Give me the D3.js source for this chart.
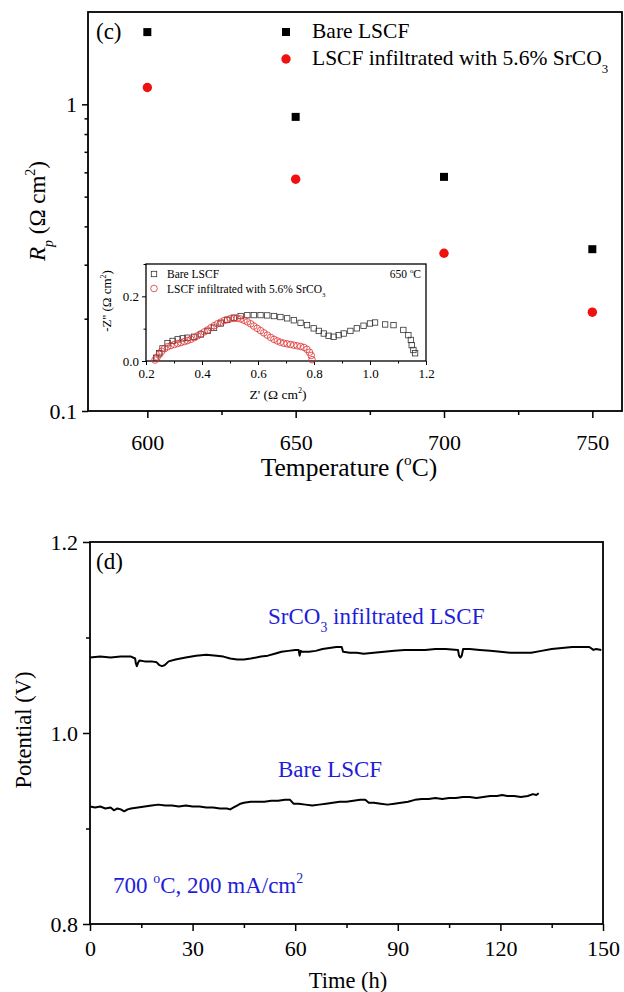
<!DOCTYPE html>
<html>
<head>
<meta charset="utf-8">
<script src="https://cdn.jsdelivr.net/npm/d3@7"></script>
<style>
  body { margin: 0; background: #fff; }
  svg { display: block; font-family: "Liberation Serif", "Times New Roman", serif; }
</style>
</head>
<body>
<svg id="chart" width="624" height="992"></svg>
<script>
// ---- panel (c): Rp vs temperature ----
const temps = [600, 650, 700, 750];
const rpBare = [1.72, 0.91, 0.58, 0.337];
const rpSrCO3 = [1.135, 0.57, 0.327, 0.21];
const tempTicks = [600, 650, 700, 750];
const tempMinor = [625, 675, 725];
const rpTicks = [0.1, 1];
const rpMinor = [0.2, 0.3, 0.4, 0.5, 0.6, 0.7, 0.8, 0.9];

// ---- inset: impedance spectra at 650 C ----
const bareZre = [0.236, 0.247, 0.259, 0.277, 0.295, 0.313, 0.331, 0.348, 0.372, 0.396, 0.42, 0.443, 0.467, 0.49, 0.514, 0.538, 0.562, 0.585, 0.609, 0.633, 0.657, 0.68, 0.704, 0.728, 0.752, 0.775, 0.799, 0.817, 0.835, 0.852, 0.87, 0.888, 0.906, 0.93, 0.953, 0.977, 1.0, 1.018, 1.054, 1.084, 1.119, 1.137, 1.146, 1.149, 1.155, 1.161];
const bareZim = [0.01, 0.024, 0.039, 0.055, 0.062, 0.067, 0.07, 0.072, 0.075, 0.082, 0.093, 0.103, 0.116, 0.127, 0.134, 0.139, 0.142, 0.142, 0.142, 0.141, 0.139, 0.136, 0.132, 0.126, 0.118, 0.111, 0.101, 0.093, 0.085, 0.078, 0.075, 0.08, 0.085, 0.093, 0.101, 0.109, 0.116, 0.119, 0.113, 0.111, 0.096, 0.08, 0.065, 0.049, 0.034, 0.024];
const srZre = [0.232, 0.24, 0.248, 0.256, 0.266, 0.277, 0.289, 0.301, 0.313, 0.325, 0.337, 0.348, 0.36, 0.372, 0.384, 0.396, 0.408, 0.42, 0.432, 0.443, 0.455, 0.467, 0.479, 0.49, 0.502, 0.514, 0.526, 0.538, 0.55, 0.562, 0.574, 0.585, 0.597, 0.609, 0.621, 0.633, 0.645, 0.657, 0.669, 0.68, 0.692, 0.704, 0.716, 0.728, 0.74, 0.752, 0.764, 0.775, 0.784, 0.79, 0.793];
const srZim = [0.003, 0.012, 0.021, 0.03, 0.038, 0.044, 0.048, 0.051, 0.054, 0.057, 0.06, 0.063, 0.067, 0.072, 0.078, 0.084, 0.09, 0.096, 0.103, 0.109, 0.115, 0.12, 0.125, 0.128, 0.131, 0.132, 0.132, 0.13, 0.126, 0.121, 0.115, 0.108, 0.101, 0.094, 0.087, 0.08, 0.073, 0.067, 0.062, 0.058, 0.055, 0.053, 0.051, 0.049, 0.047, 0.045, 0.042, 0.036, 0.027, 0.017, 0.004];
const zreTicks = [0.2, 0.4, 0.6, 0.8, 1.0, 1.2];
const zreMinor = [0.3, 0.5, 0.7, 0.9, 1.1];
const zimTicks = [0.0, 0.2];
const zimMinor = [0.1, 0.3];

// ---- panel (d): stability at 700 C ----
const timeSr = [0, 3, 6, 9, 12, 13.2, 13.4, 13.7, 14.1, 14.5, 16, 18, 19.5, 20.3, 21, 21.8, 23, 25, 28, 31, 34, 37, 39, 41, 43, 45, 47, 50, 52, 54, 56, 58, 60, 61, 61.3, 61.6, 62, 64, 66, 68, 70, 72, 73.6, 74, 76, 78, 80, 83, 86, 89, 92, 95, 98, 101, 104, 107.6, 107.9, 108.3, 108.7, 109.1, 111, 114, 117, 120, 123, 126, 129, 132, 135, 138, 141, 144, 146, 147.2, 148, 149.5];
const vSr = [1.079, 1.08, 1.079, 1.08, 1.08, 1.078, 1.073, 1.07, 1.074, 1.076, 1.075, 1.075, 1.074, 1.071, 1.07, 1.071, 1.075, 1.077, 1.079, 1.081, 1.082, 1.081, 1.08, 1.078, 1.077, 1.077, 1.078, 1.08, 1.081, 1.083, 1.085, 1.086, 1.087, 1.087, 1.081, 1.086, 1.085, 1.085, 1.086, 1.088, 1.089, 1.09, 1.09, 1.085, 1.084, 1.084, 1.083, 1.084, 1.085, 1.086, 1.087, 1.087, 1.087, 1.088, 1.088, 1.087, 1.081, 1.079, 1.081, 1.088, 1.088, 1.087, 1.086, 1.085, 1.084, 1.084, 1.084, 1.086, 1.088, 1.089, 1.09, 1.09, 1.09, 1.087, 1.088, 1.087];
const timeBare = [0, 1.5, 3, 4.5, 6, 7, 8, 9, 10, 11, 12, 14, 16, 18, 20, 22, 24, 26, 28, 30, 32, 34, 36, 38, 40, 41, 42, 43, 44, 45, 47, 49, 51, 53, 55, 57, 58.5, 59.5, 61, 63, 65, 67, 69, 71, 73, 75, 77, 79, 80.5, 81.5, 83, 85, 87, 89, 91, 93, 95, 97, 99, 101, 103, 105, 107, 109, 111, 113, 115, 117, 119, 120.5, 122, 124, 126, 128, 129.5, 130.5, 131.2];
const vBare = [0.923, 0.922, 0.923, 0.921, 0.922, 0.919, 0.921, 0.92, 0.918, 0.92, 0.921, 0.922, 0.923, 0.924, 0.925, 0.924, 0.924, 0.923, 0.924, 0.923, 0.923, 0.922, 0.922, 0.921, 0.921, 0.92, 0.922, 0.924, 0.926, 0.927, 0.928, 0.928, 0.928, 0.929, 0.929, 0.93, 0.93, 0.926, 0.926, 0.925, 0.924, 0.925, 0.926, 0.927, 0.928, 0.928, 0.929, 0.93, 0.93, 0.927, 0.927, 0.926, 0.925, 0.926, 0.927, 0.928, 0.93, 0.931, 0.931, 0.932, 0.931, 0.932, 0.932, 0.933, 0.933, 0.932, 0.933, 0.934, 0.934, 0.935, 0.934, 0.934, 0.933, 0.934, 0.936, 0.935, 0.937];
const timeTicks = [0, 30, 60, 90, 120, 150];
const timeMinor = [15, 45, 75, 105, 135];
const vTicks = [0.8, 1.0, 1.2];
const vMinor = [0.9, 1.1];

const TICKF = 22;
const LEGF = 21.5;
const BLUE = "#1e1ed8";
const RED = "#f01010";
const svg = d3.select("#chart");

// text with sub/superscript pieces
function rich(text, parts, fs) {
  let shift = 0;
  parts.forEach((p) => {
    const target = p.sub ? fs * 0.36 : p.sup ? -fs * 0.42 : 0;
    const ts = text.append("tspan").attr("dy", target - shift).text(p.t);
    shift = target;
    if (p.sub || p.sup) ts.attr("font-size", fs * 0.6);
    if (p.it) ts.attr("font-style", "italic");
  });
  return text;
}

function drawAxis(g, gen, major, minor, len, minorLen, pad, fmt, fs, sw) {
  const a = g.append("g").call(gen.tickValues(major).tickSize(len).tickPadding(pad).tickFormat(fmt));
  const b = g.append("g").call(gen.tickValues(minor).tickSize(minorLen).tickFormat(""));
  [a, b].forEach((s) => {
    s.select(".domain").remove();
    s.selectAll("line").attr("stroke", "#000").attr("stroke-width", sw);
    s.attr("font-family", null).attr("font-size", fs);
  });
  a.selectAll("text").attr("fill", "#000");
  return a;
}

// ================= panel (c) =================
const xc = d3.scaleLinear().domain([580, 760]).range([88, 622]);
const yc = d3.scaleLog().domain([0.1, 2]).range([411, 12]);

const gc = svg.append("g");
drawAxis(gc.append("g").attr("transform", "translate(0,411)"), d3.axisBottom(xc),
  tempTicks, tempMinor, 7, 4, 16, d3.format("d"), TICKF, 1.5);
drawAxis(gc.append("g").attr("transform", "translate(88,0)"), d3.axisLeft(yc),
  rpTicks, rpMinor, 6, 3.5, 5, (d) => (d === 1 ? "1" : "0.1"), TICKF, 1.5);
gc.append("rect").attr("x", 88).attr("y", 12).attr("width", 534).attr("height", 399)
  .attr("fill", "none").attr("stroke", "#000").attr("stroke-width", 1.8);

gc.append("g").selectAll("rect").data(temps).join("rect")
  .attr("x", (d) => xc(d) - 4).attr("y", (d, i) => yc(rpBare[i]) - 4)
  .attr("width", 8).attr("height", 8).attr("fill", "#000");
gc.append("g").selectAll("circle").data(temps).join("circle")
  .attr("cx", (d) => xc(d)).attr("cy", (d, i) => yc(rpSrCO3[i]))
  .attr("r", 4.7).attr("fill", RED);

gc.append("text").attr("x", 96).attr("y", 39).attr("font-size", 23).text("(c)");

// legend
gc.append("rect").attr("x", 282).attr("y", 28).attr("width", 8).attr("height", 8).attr("fill", "#000");
gc.append("circle").attr("cx", 286).attr("cy", 59).attr("r", 4.7).attr("fill", RED);
gc.append("text").attr("x", 312).attr("y", 38).attr("font-size", LEGF).text("Bare LSCF");
rich(gc.append("text").attr("x", 312).attr("y", 65).attr("font-size", LEGF),
  [{ t: "LSCF infiltrated with 5.6% SrCO" }, { t: "3", sub: true }], LEGF);

rich(gc.append("text").attr("transform", "translate(45,211) rotate(-90)")
  .attr("text-anchor", "middle").attr("font-size", 23),
  [{ t: "R", it: true }, { t: "p", sub: true, it: true }, { t: " (Ω cm" }, { t: "2", sup: true }, { t: ")" }], 23);
rich(gc.append("text").attr("x", 349).attr("y", 476).attr("text-anchor", "middle").attr("font-size", 25.5),
  [{ t: "Temperature (" }, { t: "o", sup: true }, { t: "C)" }], 25.5);

// ================= inset =================
const xi = d3.scaleLinear().domain([0.2, 1.2]).range([146, 426]);
const yi = d3.scaleLinear().domain([0, 0.3]).range([361, 264]);
const gi = svg.append("g");
const FI = 13;
drawAxis(gi.append("g").attr("transform", "translate(0,361)"), d3.axisBottom(xi),
  zreTicks, zreMinor, 4, 2.5, 4, d3.format(".1f"), FI, 1);
drawAxis(gi.append("g").attr("transform", "translate(146,0)"), d3.axisLeft(yi),
  zimTicks, zimMinor, 4, 2.5, 3, d3.format(".1f"), FI, 1);
gi.append("rect").attr("x", 146).attr("y", 264).attr("width", 280).attr("height", 97)
  .attr("fill", "none").attr("stroke", "#000").attr("stroke-width", 1.3);

gi.append("g").selectAll("rect").data(bareZre).join("rect")
  .attr("x", (d) => xi(d) - 2.7).attr("y", (d, i) => yi(bareZim[i]) - 2.7)
  .attr("width", 5.4).attr("height", 5.4)
  .attr("fill", "none").attr("stroke", "#333").attr("stroke-width", 0.8);
gi.append("g").selectAll("circle").data(srZre).join("circle")
  .attr("cx", (d) => xi(d)).attr("cy", (d, i) => yi(srZim[i]))
  .attr("r", 3.3).attr("fill", "none").attr("stroke", "#e03030").attr("stroke-width", 0.8);

gi.append("rect").attr("x", 151.3).attr("y", 271.3).attr("width", 5.4).attr("height", 5.4)
  .attr("fill", "none").attr("stroke", "#333").attr("stroke-width", 0.8);
gi.append("circle").attr("cx", 154).attr("cy", 288.5).attr("r", 3.3)
  .attr("fill", "none").attr("stroke", "#e03030").attr("stroke-width", 0.8);
gi.append("text").attr("x", 167).attr("y", 278).attr("font-size", 11.5).text("Bare LSCF");
rich(gi.append("text").attr("x", 167).attr("y", 292.5).attr("font-size", 11.5),
  [{ t: "LSCF infiltrated with 5.6% SrCO" }, { t: "3", sub: true }], 11.5);
rich(gi.append("text").attr("x", 421).attr("y", 278).attr("text-anchor", "end").attr("font-size", 11.5),
  [{ t: "650 " }, { t: "o", sup: true }, { t: "C" }], 11.5);

rich(gi.append("text").attr("transform", "translate(111,301) rotate(-90)")
  .attr("text-anchor", "middle").attr("font-size", 13),
  [{ t: "-Z'' (Ω cm" }, { t: "2", sup: true }, { t: ")" }], 13);
rich(gi.append("text").attr("x", 278).attr("y", 399).attr("text-anchor", "middle").attr("font-size", 13.5),
  [{ t: "Z' (Ω cm" }, { t: "2", sup: true }, { t: ")" }], 13.5);

// ================= panel (d) =================
const xd = d3.scaleLinear().domain([0, 150]).range([90, 603]);
const yd = d3.scaleLinear().domain([0.8, 1.2]).range([924, 542]);
const gd = svg.append("g");
drawAxis(gd.append("g").attr("transform", "translate(0,924)"), d3.axisBottom(xd),
  timeTicks, timeMinor, 7, 4, 9, d3.format("d"), TICKF, 1.5);
drawAxis(gd.append("g").attr("transform", "translate(90,0)"), d3.axisLeft(yd),
  vTicks, vMinor, 7, 4, 5, d3.format(".1f"), TICKF, 1.5);
gd.append("rect").attr("x", 90).attr("y", 542).attr("width", 513).attr("height", 382)
  .attr("fill", "none").attr("stroke", "#000").attr("stroke-width", 1.8);

const line = d3.line().x((d) => xd(d[0])).y((d) => yd(d[1]));
gd.append("path").datum(d3.zip(timeSr, vSr)).attr("d", line)
  .attr("fill", "none").attr("stroke", "#000").attr("stroke-width", 2).attr("stroke-linejoin", "round");
gd.append("path").datum(d3.zip(timeBare, vBare)).attr("d", line)
  .attr("fill", "none").attr("stroke", "#000").attr("stroke-width", 2).attr("stroke-linejoin", "round");

gd.append("text").attr("x", 96).attr("y", 569).attr("font-size", 23).text("(d)");
rich(gd.append("text").attr("x", 268).attr("y", 624).attr("font-size", 23).attr("fill", BLUE),
  [{ t: "SrCO" }, { t: "3", sub: true }, { t: " infiltrated LSCF" }], 23);
gd.append("text").attr("x", 278).attr("y", 777).attr("font-size", 23).attr("fill", BLUE).text("Bare LSCF");
rich(gd.append("text").attr("x", 113).attr("y", 893).attr("font-size", 23).attr("fill", BLUE),
  [{ t: "700 " }, { t: "o", sup: true }, { t: "C, 200 mA/cm" }, { t: "2", sup: true }], 23);

gd.append("text").attr("transform", "translate(31,730) rotate(-90)")
  .attr("text-anchor", "middle").attr("font-size", 22.5).text("Potential (V)");
gd.append("text").attr("x", 348).attr("y", 988).attr("text-anchor", "middle").attr("font-size", 22.5).text("Time (h)");
</script>
</body>
</html>
